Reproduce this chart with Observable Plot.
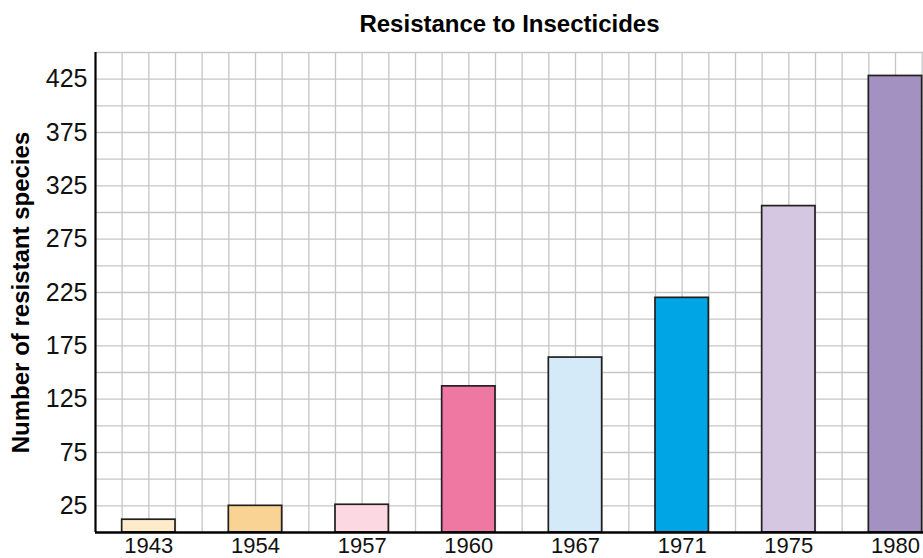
<!DOCTYPE html>
<html>
<head>
<meta charset="utf-8">
<script src="https://cdn.jsdelivr.net/npm/d3@7"></script>
<script src="https://cdn.jsdelivr.net/npm/@observablehq/plot@0.6"></script>
<style>
  html, body { margin: 0; padding: 0; background: #fff; }
  #chart svg { display: block; }
</style>
</head>
<body>
<div id="chart"></div>
<script>
const title = "Resistance to Insecticides";
const yLabel = "Number of resistant species";
const years = ["1943", "1954", "1957", "1960", "1967", "1971", "1975", "1980"];
const values = [12, 25, 26, 137, 164, 220, 306, 428];
const colors = ["#fdebcb", "#f9d394", "#fcd8e2", "#ef78a3", "#d4eaf9", "#00a5e6", "#d5c7e1", "#a391c2"];
const yTickLabels = [25, 75, 125, 175, 225, 275, 325, 375, 425];
const yGrid = d3.range(25, 451, 25);

// each year occupies 4 grid cells; bar fills cells 1..3
const data = years.map((year, i) => ({year, value: values[i], color: colors[i], i}));
const xGrid = d3.range(1, 32);

const tickFont = "'Liberation Sans Narrow', 'Liberation Sans', Arial, sans-serif";
const boldFont = "'Liberation Sans', Arial, sans-serif";

const chart = Plot.plot({
  width: 923,
  height: 558,
  marginLeft: 95,
  marginRight: 0,
  marginTop: 52,
  marginBottom: 26,
  style: {fontFamily: tickFont, fontSize: "24px", color: "#111", background: "#fff"},
  x: {type: "linear", domain: [0, 31.05], axis: null},
  y: {domain: [0, 450], axis: null},
  marks: [
    Plot.ruleY(yGrid, {stroke: "#c6c6c6", strokeWidth: 1.3}),
    Plot.ruleX(xGrid, {y1: 0, y2: 450, stroke: "#c6c6c6", strokeWidth: 1.3}),
    Plot.rectY(data, {
      x1: d => 4 * d.i + 1,
      x2: d => 4 * d.i + 3,
      y1: 0,
      y2: "value",
      fill: d => d.color,
      stroke: "#231f20",
      strokeWidth: 1.7
    }),
    Plot.ruleX([0], {y1: 0, y2: 450, stroke: "#000", strokeWidth: 2.2}),
    Plot.ruleY([0], {stroke: "#000", strokeWidth: 2.5}),
    Plot.axisY({ticks: yTickLabels, tickSize: 0, tickPadding: 8, label: null, fontSize: 25}),
    Plot.axisX({
      ticks: years.map((_, i) => 4 * i + 2),
      tickFormat: d => years[(d - 2) / 4],
      tickSize: 0,
      tickPadding: 5,
      label: null,
      fontSize: 22
    }),
    Plot.text([title], {
      frameAnchor: "top",
      dy: -21,
      lineAnchor: "bottom",
      fontFamily: boldFont,
      fontWeight: "bold",
      fontSize: 24,
      fill: "#000"
    }),
    Plot.text([yLabel], {
      frameAnchor: "left",
      rotate: -90,
      dx: -74,
      textAnchor: "middle",
      lineAnchor: "middle",
      fontFamily: boldFont,
      fontWeight: "bold",
      fontSize: 24,
      fill: "#000"
    })
  ]
});
document.getElementById("chart").appendChild(chart);
</script>
</body>
</html>
